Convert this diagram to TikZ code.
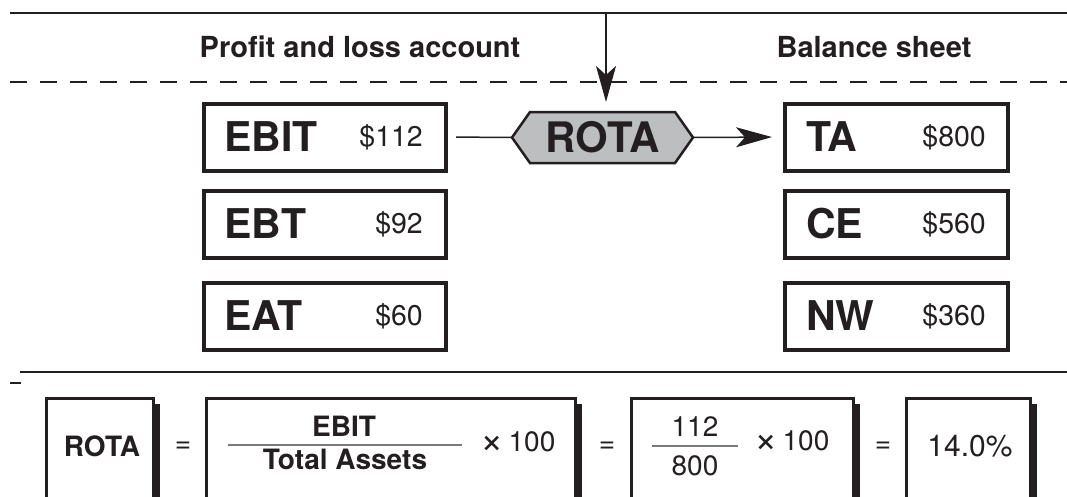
\documentclass[tikz,border=0pt]{standalone}
\usepackage{fontspec}
\setmainfont{TeX Gyre Heros}
\usepackage{xcolor}
\usetikzlibrary{arrows.meta, shadows, calc, positioning, backgrounds}
\definecolor{inkdark}{HTML}{231F20}
\definecolor{rotagrey}{HTML}{BDBEC0}
\definecolor{bargrey}{HTML}{7A7A7A}
\newcommand{\bigtimes}{{\fontsize{40}{40}\selectfont\raisebox{-2pt}{×}}}
\tikzset{
  %account box style
  acct/.style={
    draw=inkdark
    , line width=4pt
    , minimum width=242
    , minimum height=67
    , inner sep=0pt
    %, rounded corners
  },
  %name inside a box
  tag/.style={
    text=inkdark
    , inner sep=0pt
    , font=\fontsize{41}{41}\selectfont\bfseries
  },
  %dollar amount inside a box
  amount/.style={
    text=inkdark
    , inner sep=0pt
    , font=\fontsize{28.5}{29}\selectfont
  },
  head/.style={
    text=inkdark
    , font=\fontsize{29}{29}\selectfont\bfseries
  },
  %ratio shape
  ratio/.style={
    draw=inkdark
    , fill=rotagrey
    , line width=2.5pt
    , line join=miter
  },
  %formula box style
  formbox/.style={
    draw=inkdark
    , fill=white
    , line width=3pt
    , minimum height=112
    , drop shadow={shadow xshift=6pt, shadow yshift=-6pt, fill=inkdark, opacity=1}
  },
  formtxt/.style={
    text=inkdark
    , font=\fontsize{28}{28}\selectfont\bfseries
  },
  formnum/.style={
    text=inkdark
    , font=\fontsize{28}{28}\selectfont
  },
  link/.style={
    draw=inkdark
    , line width=1.5pt
  },
  tip/.style={
    -{Stealth[length=36pt, width=20pt, inset=9pt]}
  },
  rule/.style={
    draw=inkdark
    , line width=2.5pt
  },
}

\begin{document}
\begin{tikzpicture}[x=1pt, y=-1pt]
  \useasboundingbox (0,0) rectangle (1067,496);
  \clip (0,0) rectangle (1067,496);

  % headings and rules
  \draw[rule] (10,13) -- (1067,13);
  \node[head] (pl) at (360,47) {Profit and loss account};
  \node[head] (bs) at (874,47) {Balance sheet};
  \draw[rule, line width=2pt, dash pattern=on 17pt off 13pt] (10,82) -- (1067,82);

  % profit and loss side
  \node[acct] (ebit) at (325,137) {};
  \node[acct] (ebt) at (325,224) {};
  \node[acct] (eat) at (325,316) {};
  \node[tag, right=22pt of ebit.west] {EBIT};
  \node[amount, left=25pt of ebit.east] {\$112};
  \node[tag, right=22pt of ebt.west] {EBT};
  \node[amount, left=25pt of ebt.east] {\$92};
  \node[tag, right=22pt of eat.west] {EAT};
  \node[amount, left=25pt of eat.east] {\$60};

  % balance sheet side
  \node[acct, minimum width=223] (ta) at (896.5,137) {};
  \node[acct, minimum width=223] (ce) at (896.5,224) {};
  \node[acct, minimum width=223] (nw) at (896.5,316) {};
  \node[tag, right=23pt of ta.west] {TA};
  \node[amount, left=24pt of ta.east] {\$800};
  \node[tag, right=23pt of ce.west] {CE};
  \node[amount, left=24pt of ce.east] {\$560};
  \node[tag, right=23pt of nw.west] {NW};
  \node[amount, left=24pt of nw.east] {\$360};

  % the ratio
  \node[tag, font=\fontsize{42}{42}\selectfont\bfseries, minimum width=181, minimum height=51, outer sep=0pt] (rota) at (602.5,137.5) {ROTA};
  \begin{scope}[on background layer]
    \draw[ratio] (rota.west) -- ($(rota.north west)+(18,0)$) -- ($(rota.north east)+(-18,0)$)
      -- (rota.east) -- ($(rota.south east)+(-18,0)$) -- ($(rota.south west)+(18,0)$) -- cycle;
  \end{scope}
  \coordinate (feed) at (606,13);
  \draw[link, tip, shorten >=10pt] (feed) -- (feed |- rota.north);
  \draw[link, shorten <=8pt] (ebit.east) -- (rota.west);
  \draw[link, tip, shorten >=11pt] (rota.east) -- (ta.west);

  \draw[rule] (20,372) -- (1067,372);
  \draw[rule] (10,383) -- (21,383);

  % formula row
  \node[formbox, minimum width=107] (lhs) at (100,454) {};
  \node[formbox, minimum width=369] (defn) at (391,454) {};
  \node[formbox, minimum width=222] (subst) at (742.5,454) {};
  \node[formbox, minimum width=124] (res) at (968.5,454) {};

  \node[formtxt] (lname) at (102,446) {ROTA};
  \node[formnum] (eq1) at (183,447) {=};
  \node[formtxt] (num) at (344,426) {EBIT};
  \draw[bargrey, line width=2pt] (228,445) -- (462,445);
  \node[formtxt] (den) at (345,459) {Total Assets};
  \node[formnum] (pct1) at (518,443) {\bigtimes\,100};
  \node[formnum] (eq2) at (607,447) {=};
  \node[formnum] (num2) at (695,427) {112};
  \draw[bargrey, line width=2pt] (652,446) -- (738,446);
  \node[formnum] (den2) at (695,466) {800};
  \node[formnum] (pct2) at (792,442) {\bigtimes\,100};
  \node[formnum] (eq3) at (883,447) {=};
  \node[formnum, font=\fontsize{30}{30}\selectfont] (out) at (970,446) {14.0\%};
\end{tikzpicture}
\end{document}
